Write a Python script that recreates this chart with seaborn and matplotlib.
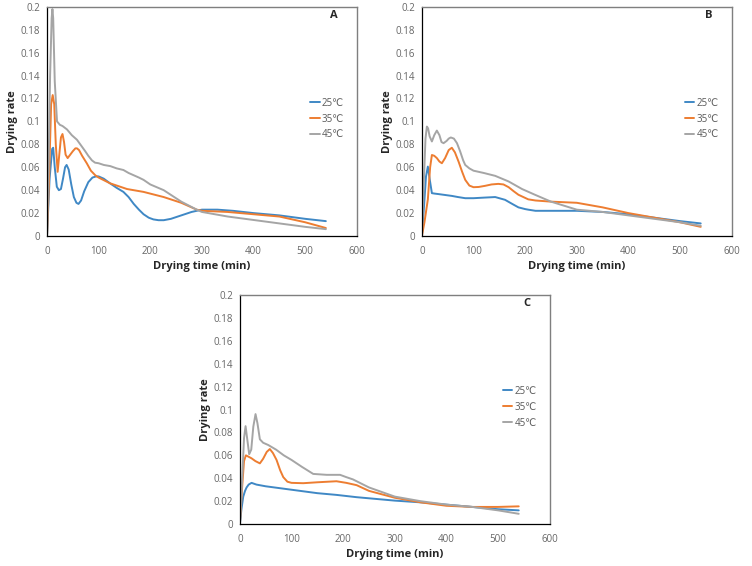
import pandas as pd
import matplotlib
matplotlib.use("Agg")
import matplotlib.pyplot as plt
import seaborn as sns

# ---- data ----
temps = ["25℃", "35℃", "45℃"]

# Panel A
a25_t = [0, 5, 10, 12, 15, 19, 23, 27, 31, 35, 38, 42, 47, 52, 57, 61, 66, 72, 80, 88, 95, 100, 110, 122, 135, 148, 158, 168, 178, 187, 197, 206, 216, 226, 240, 260, 280, 300, 330, 360, 400, 450, 500, 540]
a25_r = [0, 0.05, 0.076, 0.077, 0.06, 0.043, 0.040, 0.041, 0.050, 0.060, 0.062, 0.058, 0.045, 0.034, 0.029, 0.028, 0.031, 0.039, 0.047, 0.051, 0.052, 0.052, 0.050, 0.046, 0.042, 0.0385, 0.034, 0.028, 0.023, 0.019, 0.016, 0.0145, 0.0138, 0.0138, 0.015, 0.018, 0.021, 0.023, 0.023, 0.022, 0.020, 0.018, 0.015, 0.013]
a35_t = [0, 4, 8, 11, 14, 17, 20.6, 24, 27, 30, 33, 36, 40, 45, 50, 55, 58, 62, 68, 77, 85, 93.5, 100, 122, 155, 187, 226, 260, 290, 300, 350, 400, 450, 500, 540]
a35_r = [0, 0.05, 0.115, 0.123, 0.115, 0.08, 0.056, 0.072, 0.086, 0.089, 0.082, 0.071, 0.068, 0.071, 0.074, 0.0765, 0.0765, 0.075, 0.070, 0.0635, 0.057, 0.053, 0.051, 0.046, 0.041, 0.0385, 0.034, 0.029, 0.023, 0.022, 0.021, 0.019, 0.017, 0.012, 0.007]
a45_t = [0, 3, 6, 9, 10.5, 12, 15, 19.4, 25, 30, 38.7, 48, 58, 66, 74, 80, 87, 93, 100, 110, 122.6, 135, 148, 158, 168, 178, 187, 200, 226, 260, 290, 300, 350, 400, 450, 500, 540]
a45_r = [0, 0.06, 0.14, 0.19, 0.198, 0.19, 0.135, 0.100, 0.097, 0.096, 0.093, 0.088, 0.084, 0.079, 0.074, 0.070, 0.066, 0.064, 0.0635, 0.062, 0.061, 0.059, 0.0576, 0.055, 0.053, 0.051, 0.049, 0.045, 0.040, 0.030, 0.023, 0.021, 0.017, 0.014, 0.011, 0.008, 0.006]

# Panel B
b25_t = [0, 4, 8, 11.6, 15, 19.4, 25, 32, 45, 58, 70, 84, 100, 120, 142, 161, 175, 187, 200, 206, 220, 250, 300, 350, 400, 450, 500, 540]
b25_r = [0, 0.025, 0.052, 0.0606, 0.05, 0.0374, 0.037, 0.0366, 0.0358, 0.035, 0.034, 0.033, 0.033, 0.0335, 0.034, 0.0316, 0.028, 0.025, 0.0235, 0.023, 0.022, 0.022, 0.022, 0.021, 0.019, 0.016, 0.013, 0.011]
b35_t = [0, 5, 11.6, 16, 19.4, 24, 29, 34, 38.7, 45, 52, 58, 64, 71, 78, 84, 92, 100, 110, 122.6, 135, 148, 158, 168, 178, 187, 206, 220, 250, 300, 350, 400, 450, 500, 540]
b35_r = [0, 0.012, 0.032, 0.06, 0.0707, 0.070, 0.068, 0.065, 0.0635, 0.068, 0.075, 0.077, 0.073, 0.065, 0.056, 0.049, 0.044, 0.0426, 0.0428, 0.0438, 0.045, 0.0455, 0.045, 0.0426, 0.039, 0.036, 0.032, 0.031, 0.030, 0.029, 0.025, 0.020, 0.016, 0.012, 0.008]
b45_t = [0, 4, 7, 9.7, 12, 15, 19.4, 24, 29, 34, 38, 42, 48, 52, 56, 62, 68, 74, 80, 84, 92, 100, 120, 142, 168, 194, 219, 250, 300, 350, 400, 450, 500, 540]
b45_r = [0, 0.05, 0.085, 0.0955, 0.094, 0.087, 0.0825, 0.088, 0.092, 0.088, 0.082, 0.081, 0.083, 0.085, 0.086, 0.085, 0.081, 0.074, 0.066, 0.062, 0.059, 0.057, 0.055, 0.0525, 0.0476, 0.041, 0.036, 0.030, 0.023, 0.021, 0.018, 0.015, 0.012, 0.009]

# Panel C
c25_t = [0, 3, 6.5, 10, 13, 17, 22.6, 32, 50, 100, 150, 187, 226, 300, 350, 400, 450, 500, 540]
c25_r = [0, 0.013, 0.024, 0.029, 0.032, 0.0345, 0.036, 0.0345, 0.033, 0.030, 0.027, 0.0255, 0.0235, 0.0205, 0.019, 0.017, 0.015, 0.013, 0.012]
c35_t = [0, 4, 8, 11.6, 16, 22.6, 30, 38.7, 45, 52, 58, 64, 71, 78, 84, 92, 100, 122.6, 150, 187, 206, 226, 250, 300, 350, 400, 450, 500, 540]
c35_r = [0, 0.03, 0.055, 0.060, 0.059, 0.0574, 0.055, 0.053, 0.057, 0.063, 0.0655, 0.062, 0.056, 0.047, 0.041, 0.037, 0.036, 0.0357, 0.0365, 0.0374, 0.036, 0.034, 0.029, 0.023, 0.019, 0.016, 0.015, 0.015, 0.0155]
c45_t = [0, 4, 8, 11, 14, 18, 22, 26, 30.3, 34, 38.7, 45, 55, 70, 85, 100, 120, 142, 168, 194, 206, 219, 250, 300, 350, 400, 450, 500, 540]
c45_r = [0, 0.035, 0.075, 0.0855, 0.075, 0.061, 0.065, 0.085, 0.096, 0.088, 0.074, 0.071, 0.069, 0.065, 0.060, 0.056, 0.050, 0.0438, 0.043, 0.043, 0.041, 0.039, 0.032, 0.024, 0.020, 0.017, 0.015, 0.012, 0.009]

panels = {
    "A": [(a25_t, a25_r), (a35_t, a35_r), (a45_t, a45_r)],
    "B": [(b25_t, b25_r), (b35_t, b35_r), (b45_t, b45_r)],
    "C": [(c25_t, c25_r), (c35_t, c35_r), (c45_t, c45_r)],
}

colors = ["#3F88C5", "#ED7D31", "#A5A5A5"]
palette = dict(zip(temps, colors))

sns.set_theme(style="white")
plt.rcParams["font.family"] = ["Open Sans", "DejaVu Sans"]

fig = plt.figure(figsize=(7.52, 5.66), dpi=100)
positions = {
    "A": [0.0625, 0.583, 0.412, 0.405],
    "B": [0.561, 0.583, 0.412, 0.405],
    "C": [0.319, 0.074, 0.412, 0.405],
}

for name, series in panels.items():
    rows = []
    for temp, (t, r) in zip(temps, series):
        for ti, ri in zip(t, r):
            rows.append({"time": ti, "rate": ri, "temp": temp})
    df = pd.DataFrame(rows)

    ax = fig.add_axes(positions[name])
    sns.lineplot(data=df, x="time", y="rate", hue="temp", palette=palette,
                 linewidth=1.4, ax=ax, sort=False, estimator=None)
    ax.set_xlim(0, 600)
    ax.set_ylim(0, 0.2)
    ax.set_xticks(range(0, 601, 100))
    ax.set_yticks([i * 0.02 for i in range(11)])
    ax.set_yticklabels(["0"] + [f"{i * 0.02:g}" for i in range(1, 11)])
    ax.tick_params(axis="both", labelsize=7, labelcolor="#666666",
                   direction="out", length=3, width=0.6, color="#595959", pad=2)
    ax.tick_params(axis="x", pad=4)
    ax.set_xlabel("Drying time (min)", fontsize=8, fontweight="bold", labelpad=3)
    ax.set_ylabel("Drying rate", fontsize=8, fontweight="bold", labelpad=2)
    for side in ["left", "bottom"]:
        ax.spines[side].set_color("black")
        ax.spines[side].set_linewidth(0.9)
    for side in ["top", "right"]:
        ax.spines[side].set_color("#7F7F7F")
        ax.spines[side].set_linewidth(1.0)
    ax.text(0.926, 0.962, name, transform=ax.transAxes, fontsize=8,
            fontweight="bold", ha="center", va="center")
    leg = ax.legend(loc="center left", bbox_to_anchor=(0.82, 0.51), frameon=False,
                    fontsize=7, handlelength=1.0, handletextpad=0.2, labelspacing=0.5)
    for txt in leg.get_texts():
        txt.set_color("#595959")

fig.savefig("out.png", dpi=100)
